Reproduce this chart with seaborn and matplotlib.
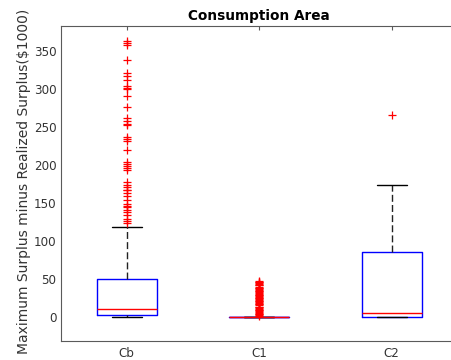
import numpy as np
import pandas as pd
import matplotlib
matplotlib.use("Agg")
import matplotlib.pyplot as plt
import seaborn as sns

# ---------------- data ----------------
areas = ["Cb", "C1", "C2"]
whisker_low = [0.0, 0.0, 0.0]
q1 = [3.4, 0.0, 0.0]
median = [10.9, 0.0, 5.3]
q3 = [50.4, 0.3, 85.5]
whisker_high = [119.2, 0.7, 174.0]

outliers_cb = [364, 361, 358, 339, 322, 318, 312, 305, 302, 300, 292, 277,
               263, 259, 255, 253, 238, 235, 232, 220, 204, 202, 199, 196,
               194, 178, 174, 171, 168, 167, 164, 160, 154, 149, 146, 145,
               141, 138, 135, 130, 127, 124]
outliers_c1 = [2, 3, 4, 5, 6, 7, 8, 9, 10, 11, 12, 13, 14,
               16, 17, 18, 19, 20, 21, 22, 23, 24, 25, 26, 27, 28, 29, 30, 31,
               32, 33, 34, 35, 36, 37, 38, 39, 40,
               42, 43, 44, 45, 46, 47, 48]
outliers_c2 = [267]
outliers = [outliers_cb, outliers_c1, outliers_c2]

yticks = [0, 50, 100, 150, 200, 250, 300, 350]
title = "Consumption Area"
ylabel = "Maximum Surplus minus Realized Surplus($1000)"


def sample(lo, a, m, b, hi, fl):
    """Expand the read summary values into a sample whose box statistics
    (linear percentiles, 1.5 IQR whiskers) reproduce them."""
    k = len(fl) + 1
    vals = np.concatenate([[lo], np.repeat(a, k), np.repeat(m, k),
                           np.repeat(b, k), [hi], np.asarray(fl, float)])
    return np.sort(vals)


rows = []
for i, name in enumerate(areas):
    s = sample(whisker_low[i], q1[i], median[i], q3[i], whisker_high[i], outliers[i])
    rows.append(pd.DataFrame({"area": name, "value": s}))
df = pd.concat(rows, ignore_index=True)

# ---------------- styling ----------------
sns.set_theme(style="white")
plt.rcParams["font.family"] = ["DejaVu Sans"]
axis_grey = "#5a5a5a"
text_grey = "#333333"

fig = plt.figure(figsize=(4.51, 3.6), dpi=100)
ax = fig.add_axes([60.5 / 451, 19 / 360, 397.5 / 451, 315.5 / 360])

sns.boxplot(
    data=df, x="area", y="value", order=areas, ax=ax,
    fill=False, width=0.45, whis=1.5, color="#0000ff", saturation=1,
    linewidth=1.0, fliersize=6,
    boxprops=dict(color="#0000ff", linewidth=1.0),
    medianprops=dict(color="#ff0000", linewidth=1.0),
    whiskerprops=dict(color="#222222", linestyle=(0, (5, 2.3)), linewidth=1.0),
    capprops=dict(color="black", linewidth=1.0),
    flierprops=dict(marker="+", markeredgecolor="#ff0000", markerfacecolor="none",
                    markeredgewidth=0.9, markersize=6),
)

# enforce MATLAB-like colours on the box artists
for cont in ax.containers:
    for b in getattr(cont, "boxes", []):
        b.set_color("#0000ff")
        b.set_zorder(2)
    for c in getattr(cont, "caps", []):
        c.set_color("black")
        c.set_zorder(2.2)
    for m in getattr(cont, "medians", []):
        m.set_color("#ff0000")
        m.set_alpha(1)
        m.set_zorder(2.6)
    for f in getattr(cont, "fliers", []):
        f.set_markeredgecolor("#ff0000")
        f.set_zorder(2.8)

ax.set_xlim(-0.5, 2.5)
ax.set_ylim(-31.2, 384.2)
ax.set_yticks(yticks)
ax.set_xlabel("")
ax.set_ylabel(ylabel, fontsize=10, color=text_grey)
ax.yaxis.set_label_coords(-0.075, 0.507)
ax.set_title(title, fontsize=9.8, fontweight="bold", color="black", pad=4)

for sp in ax.spines.values():
    sp.set_visible(True)
    sp.set_color(axis_grey)
    sp.set_linewidth(0.8)

ax.tick_params(axis="both", direction="in", length=3, width=0.8,
               color=axis_grey, labelsize=8.6, labelcolor=text_grey,
               top=True, right=True, pad=3)
ax.tick_params(axis="x", pad=4)

fig.savefig("out.png", dpi=100)
